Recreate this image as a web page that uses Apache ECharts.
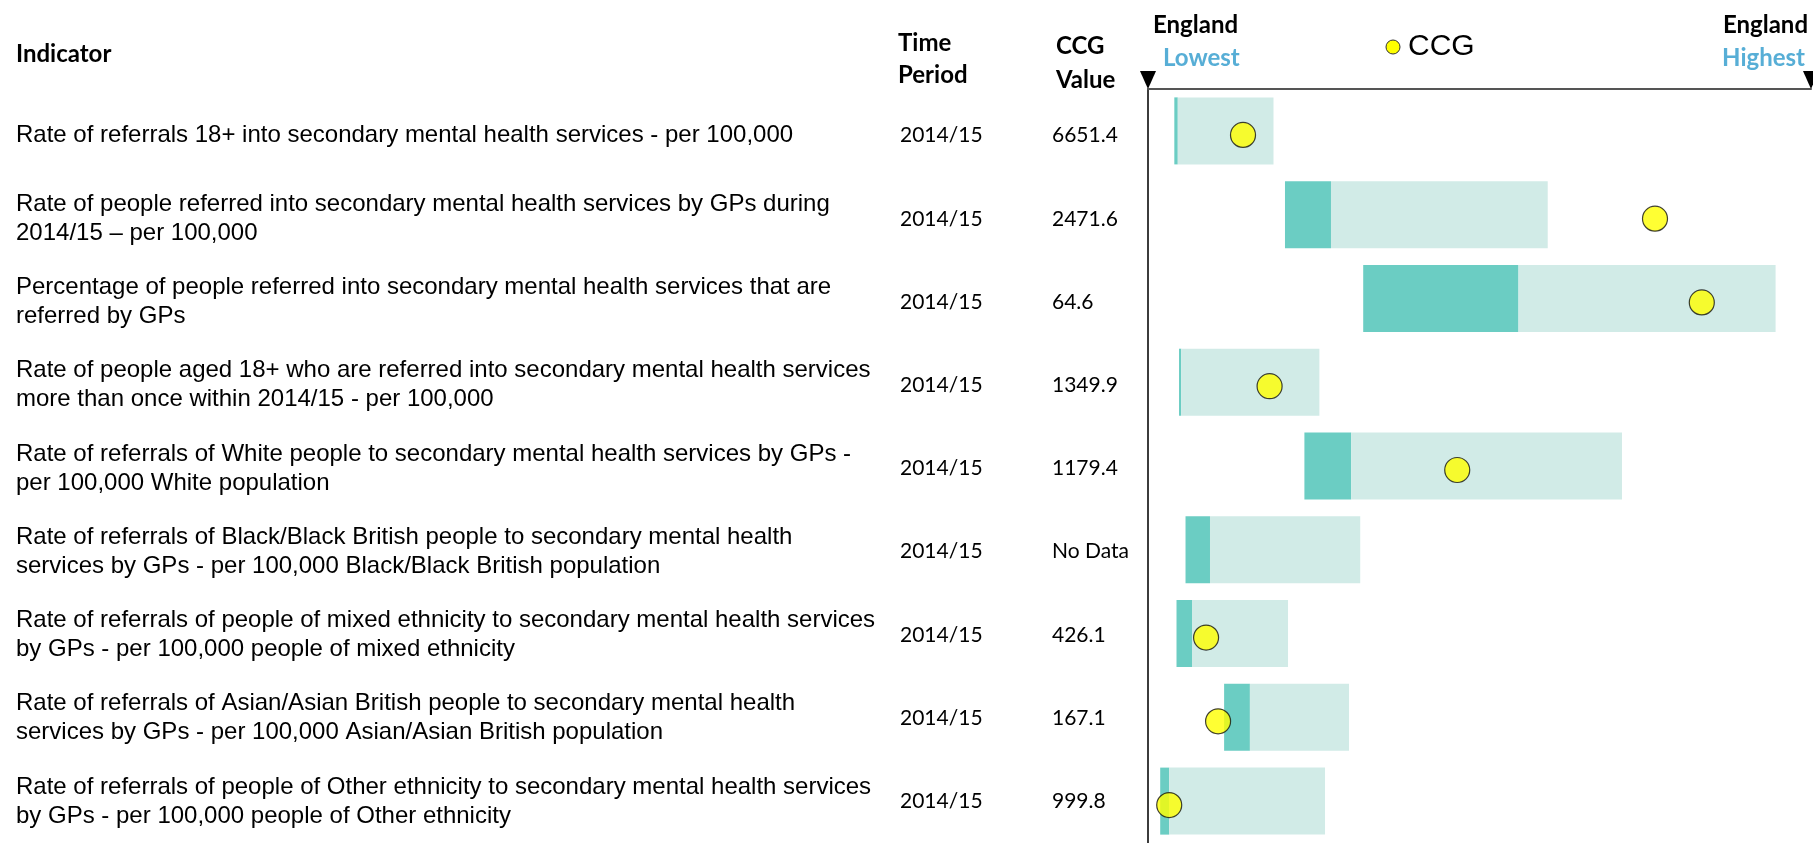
<!DOCTYPE html>
<html>
<head>
<meta charset="utf-8">
<title>Mental health referrals – CCG spine chart</title>
<script src="https://cdn.jsdelivr.net/npm/echarts@6/dist/echarts.min.js"></script>
<style>
  html, body { margin: 0; padding: 0; background: #fff; }
  #chart { width: 1813px; height: 843px; }
</style>
</head>
<body>
<div id="chart"></div>
<script>
// Indicator rows, top to bottom
const indicators = [
  'Rate of referrals 18+ into secondary mental health services - per 100,000',
  'Rate of people referred into secondary mental health services by GPs during\n2014/15 \u2013 per 100,000',
  'Percentage of people referred into secondary mental health services that are\nreferred by GPs',
  'Rate of people aged 18+ who are referred into secondary mental health services\nmore than once within 2014/15 - per 100,000',
  'Rate of referrals of White people to secondary mental health services by GPs -\nper 100,000 White population',
  'Rate of referrals of Black/Black British people to secondary mental health\nservices by GPs - per 100,000 Black/Black British population',
  'Rate of referrals of people of mixed ethnicity to secondary mental health services\nby GPs - per 100,000 people of mixed ethnicity',
  'Rate of referrals of Asian/Asian British people to secondary mental health\nservices by GPs - per 100,000 Asian/Asian British population',
  'Rate of referrals of people of Other ethnicity to secondary mental health services\nby GPs - per 100,000 people of Other ethnicity'
];
const periods = ['2014/15', '2014/15', '2014/15', '2014/15', '2014/15', '2014/15', '2014/15', '2014/15', '2014/15'];
const ccgValues = [6651.4, 2471.6, 64.6, 1349.9, 1179.4, null, 426.1, 167.1, 999.8];

// Positions on the spine, as % of the England lowest-to-highest range
const rangeStart = [3.97, 20.66, 32.46, 4.68, 23.59, 5.66, 4.30, 11.48, 1.84];
const darkEnd    = [4.49, 27.60, 55.88, 5.01, 30.65, 9.35, 6.64, 15.37, 3.20];
const rangeEnd   = [18.93, 60.29, 94.66, 25.85, 71.49, 32.01, 21.12, 30.32, 26.70];
const ccgPosition = [14.33, 76.47, 83.53, 18.34, 46.64, null, 8.76, 10.57, 3.20];

const LIGHT = '#D1EBE7';
const DARK = '#6BCDC3';
const BLUE = '#57AED6';
const HEAD_FONT = 'Lato, "Open Sans", sans-serif';
const BODY_FONT = '"Liberation Sans", Arial, sans-serif';

const chart = echarts.init(document.getElementById('chart'), null, { renderer: 'canvas' });

const GRID_LEFT = 1148;

const valueLabels = ccgValues.map(v => (v == null ? 'No Data' : v.toFixed(1)));

// Table columns sit on their own category axes in a second grid,
// nudged a few pixels below the spine rows.
function columnAxis(data, margin, font, size, lineHeight) {
  return {
    type: 'category',
    gridIndex: 1,
    inverse: true,
    position: 'left',
    data: data,
    axisLine: { show: false },
    axisTick: { show: false },
    splitLine: { show: false },
    axisLabel: {
      interval: 0,
      align: 'left',
      margin: margin,
      color: '#000',
      fontFamily: font,
      fontSize: size,
      lineHeight: lineHeight
    }
  };
}

chart.setOption({
  animation: false,
  grid: [
    { left: GRID_LEFT, right: 2, top: 89, bottom: -6, containLabel: false },
    { left: GRID_LEFT, right: 2, top: 94, bottom: -11, containLabel: false }
  ],
  xAxis: [
    {
      type: 'value',
      position: 'top',
      min: 0,
      max: 100,
      axisLine: { show: true, onZero: false, lineStyle: { color: '#555', width: 2 } },
      axisTick: { show: false },
      axisLabel: { show: false },
      splitLine: { show: false }
    },
    { type: 'value', gridIndex: 1, show: false, min: 0, max: 100 }
  ],
  yAxis: [
    {
      type: 'category',
      inverse: true,
      position: 'left',
      data: indicators,
      axisLine: { show: true, lineStyle: { color: '#3c3c3c', width: 2 } },
      axisTick: { show: false },
      axisLabel: { show: false },
      splitLine: { show: false }
    },
    columnAxis(indicators, GRID_LEFT - 16, BODY_FONT, 24, 29),
    columnAxis(periods, GRID_LEFT - 900, HEAD_FONT, 21),
    columnAxis(valueLabels, GRID_LEFT - 1052, HEAD_FONT, 21)
  ],
  series: [
    {
      name: 'base',
      type: 'bar',
      stack: 'spine',
      barCategoryGap: '20%',
      silent: true,
      itemStyle: { color: 'rgba(0,0,0,0)' },
      data: rangeStart
    },
    {
      name: 'England inner range',
      type: 'bar',
      stack: 'spine',
      silent: true,
      itemStyle: { color: DARK },
      data: darkEnd.map((d, i) => +(d - rangeStart[i]).toFixed(2))
    },
    {
      name: 'England range',
      type: 'bar',
      stack: 'spine',
      silent: true,
      itemStyle: { color: LIGHT },
      data: rangeEnd.map((e, i) => +(e - darkEnd[i]).toFixed(2))
    },
    {
      name: 'CCG',
      type: 'scatter',
      symbol: 'circle',
      symbolSize: 25,
      symbolOffset: [0, 4],
      silent: true,
      z: 5,
      itemStyle: { color: '#FFFF00', borderColor: '#111', borderWidth: 1.2 },
      data: ccgPosition.map((p, i) => (p == null ? null : [p, i])).filter(d => d)
    }
  ]
});

// Header, legend and the lowest/highest markers on the spine
const xLow = chart.convertToPixel({ xAxisIndex: 0 }, 0);
const xHigh = chart.convertToPixel({ xAxisIndex: 0 }, 100);
const triTop = 71, triTip = 89, triHalf = 8;

function headText(x, y, text, opts) {
  return {
    type: 'text',
    x: x,
    y: y,
    silent: true,
    style: Object.assign({
      text: text,
      fill: '#000',
      font: 'bold 24px ' + HEAD_FONT,
      textAlign: 'left',
      textVerticalAlign: 'middle'
    }, opts || {})
  };
}

chart.setOption({
  graphic: [
    headText(16, 54, 'Indicator'),
    headText(898, 59, 'Time\nPeriod', { lineHeight: 32 }),
    headText(1056, 63, 'CCG\nValue', { lineHeight: 34 }),
    headText(1153, 25, 'England'),
    headText(1163, 58, 'Lowest', { fill: BLUE }),
    headText(1808, 25, 'England', { textAlign: 'right' }),
    headText(1805, 58, 'Highest', { fill: BLUE, textAlign: 'right' }),
    {
      type: 'circle',
      silent: true,
      shape: { cx: 1393, cy: 47, r: 7 },
      style: { fill: '#FFFF00', stroke: '#333', lineWidth: 1 }
    },
    headText(1408, 47, 'CCG', { font: '30px ' + BODY_FONT }),
    {
      type: 'polygon',
      silent: true,
      shape: { points: [[xLow - triHalf, triTop], [xLow + triHalf, triTop], [xLow, triTip]] },
      style: { fill: '#000' }
    },
    {
      type: 'polygon',
      silent: true,
      shape: { points: [[xHigh - triHalf, triTop], [xHigh + triHalf, triTop], [xHigh, triTip]] },
      style: { fill: '#000' }
    }
  ]
});
</script>
</body>
</html>
